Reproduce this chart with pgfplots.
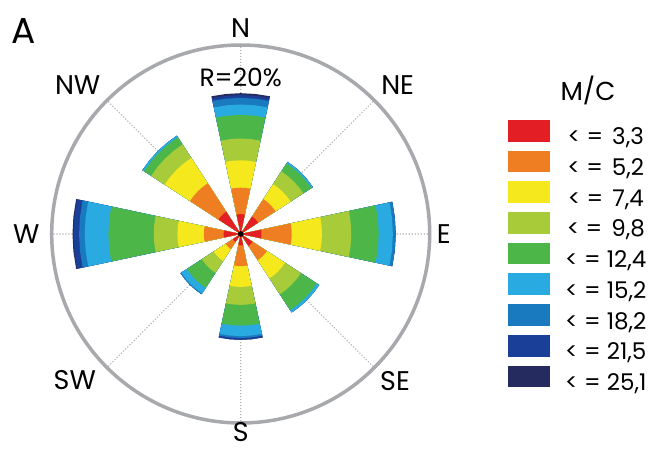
\documentclass[border=0pt]{standalone}
\usepackage{fontspec}
\setmainfont{Poppins}
\usepackage{pgfplots}
\usepackage{pgfplotstable}
\pgfplotsset{compat=1.18}
\usepgfplotslibrary{polar}

% speed classes (M/C), inner to outer
\definecolor{c1}{HTML}{E31E24}
\definecolor{c2}{HTML}{EF7D22}
\definecolor{c3}{HTML}{F5E81C}
\definecolor{c4}{HTML}{A8CB3A}
\definecolor{c5}{HTML}{4CB748}
\definecolor{c6}{HTML}{29ABE2}
\definecolor{c7}{HTML}{1A7AC0}
\definecolor{c8}{HTML}{1A3F98}
\definecolor{c9}{HTML}{252B5E}
\definecolor{ring}{HTML}{A7A9AC}

% cumulative frequency (%) per direction, classes c1..c9
\pgfplotstableread{
dir ang c1  c2  c3  c4   c5   c6   c7   c8   c9
N   90  2.1 4.9 7.8 10.1 12.6 13.7 14.4 14.7 14.9
NE  45  2.2 4.4 6.3 7.9  8.9  9.1  9.1  9.1  9.1
E   0   2.2 5.4 8.6 11.7 14.6 16.1 16.4 16.4 16.4
SE  315 1.5 3.3 5.6 7.6  9.6  9.9  9.9  9.9  9.9
S   270 1.2 3.4 5.6 7.5  9.7  10.8 11.0 11.2 11.2
SW  225 1.0 1.9 3.4 4.9  6.8  7.5  7.6  7.6  7.6
W   180 1.8 3.9 6.7 9.2  14.0 16.5 17.1 17.7 17.8
NW  135 2.8 6.4 9.6 11.3 12.2 12.4 12.4 12.4 12.4
}\rosedata

\newcommand\lbl{\fontsize{27bp}{30bp}\selectfont}
\newcommand\leg{\fontsize{23bp}{26bp}\selectfont}

\begin{document}
\begin{tikzpicture}
\path[use as bounding box] (0,0) rectangle (669bp,450bp);
\begin{polaraxis}[
    at={(240.7bp,216bp)}, anchor=center,
    scale only axis, width=378bp, height=378bp,
    xmin=0, xmax=360, ymin=0, ymax=20,
    xtick={0,45,...,315}, xticklabels={},
    ytick=\empty,
    xmajorgrids,
    grid style={gray!60, line width=1.1bp, dash pattern=on 1.2bp off 1.8bp},
    x axis line style={draw=ring, line width=3.5bp},
    y axis line style={draw=none},
    major tick length=0pt,
    clip=false,
    legend style={at={(1.207,0.8016)}, anchor=north west, draw=none, fill=none,
        inner sep=0pt, outer sep=0pt, row sep=2bp, font=\leg,
        nodes={inner sep=0pt, text height=17.85bp, text depth=3.85bp}},
    legend image code/.code={
        \fill[#1, draw=none] (0bp,-3.85bp) rectangle (41.7bp,17.85bp);
        \path (57bp,0bp);},
]
\addlegendimage{fill=c1}\addlegendentry{< =\hspace{9bp}3,3}
\addlegendimage{fill=c2}\addlegendentry{< =\hspace{9bp}5,2}
\addlegendimage{fill=c3}\addlegendentry{< =\hspace{9bp}7,4}
\addlegendimage{fill=c4}\addlegendentry{< =\hspace{9bp}9,8}
\addlegendimage{fill=c5}\addlegendentry{< = 12,4}
\addlegendimage{fill=c6}\addlegendentry{< = 15,2}
\addlegendimage{fill=c7}\addlegendentry{< = 18,2}
\addlegendimage{fill=c8}\addlegendentry{< = 21,5}
\addlegendimage{fill=c9}\addlegendentry{< = 25,1}

\pgfplotsforeachungrouped \i in {0,...,7}{%
    \pgfplotstablegetelem{\i}{ang}\of\rosedata
    \let\ang\pgfplotsretval
    \pgfmathsetmacro\aa{\ang-12}
    \pgfmathsetmacro\ab{\ang-6}
    \pgfmathsetmacro\ac{\ang+6}
    \pgfmathsetmacro\ad{\ang+12}
    \pgfplotsforeachungrouped \k in {9,8,7,6,5,4,3,2,1}{%
        \pgfplotstablegetelem{\i}{c\k}\of\rosedata
        \let\rr\pgfplotsretval
        \edef\cmd{\noexpand\addplot[draw=none, fill=c\k] coordinates
            {(0,0) (\aa,\rr) (\ab,\rr) (\ang,\rr) (\ac,\rr) (\ad,\rr)} -- cycle;}
        \cmd
    }
}
\addplot[only marks, mark=*, mark size=2.6bp, black] coordinates {(0,0)};

\node[font=\lbl] at (axis cs:90,21.8) {N};
\node[font=\lbl] at (axis cs:270,21.0) {S};
\node[font=\lbl] at (axis cs:0,21.5) {E};
\node[font=\lbl] at (axis cs:180,22.7) {W};
\node[font=\lbl] at (axis cs:43.5,22.9) {NE};
\node[font=\lbl] at (axis cs:137.5,23.4) {NW};
\node[font=\lbl] at (axis cs:-43.7,22.6) {SE};
\node[font=\lbl] at (axis cs:221.4,23.4) {SW};
\node[font=\fontsize{25bp}{28bp}\selectfont] at (axis cs:90,16.6) {R=20\%};
\end{polaraxis}
\node[font=\fontsize{36bp}{40bp}\selectfont] at (23.5bp,418.5bp) {A};
\node[font=\fontsize{26bp}{30bp}\selectfont] at (588bp,360bp) {M/C};
\end{tikzpicture}
\end{document}
